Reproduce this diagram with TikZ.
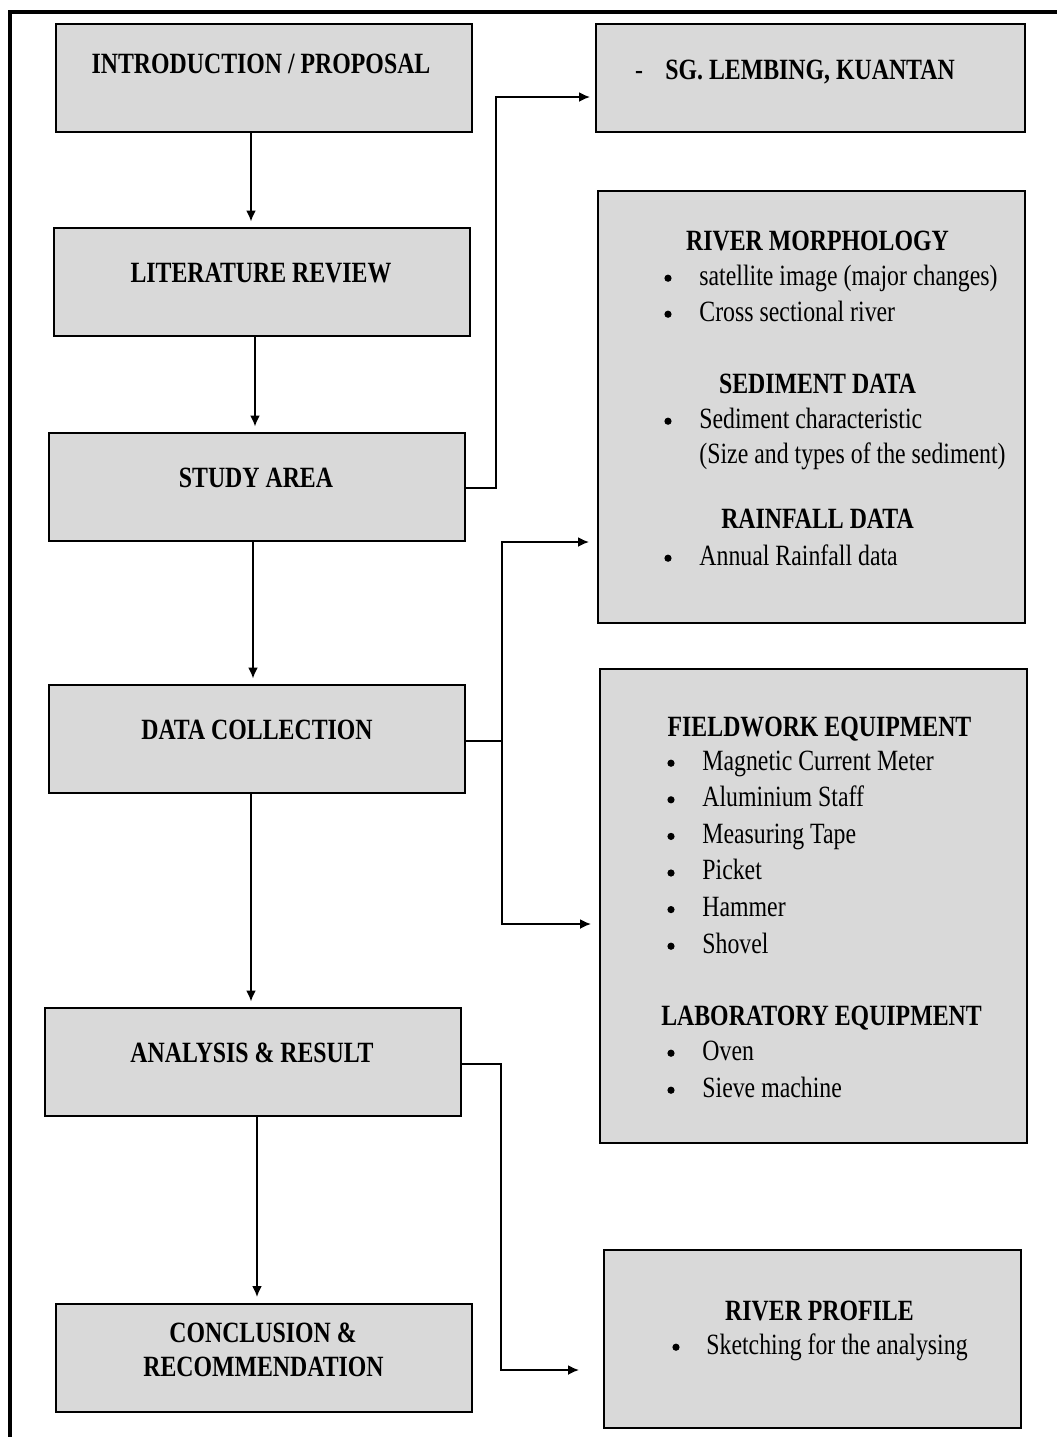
\documentclass[tikz,border=0pt]{standalone}
\usepackage{fontspec}
\setmainfont{Liberation Serif}[FakeStretch=0.81]
\usetikzlibrary{positioning,arrows.meta}

\definecolor{boxgray}{RGB}{217,217,217}
\newcommand\flowfont{\fontsize{14.7}{18}\selectfont}

\tikzset{
  stage/.style={draw, line width=1pt, fill=boxgray, minimum width=208pt, minimum height=54pt, inner sep=0pt},
  title/.style={font=\flowfont\bfseries, anchor=base, inner sep=0pt},
  item/.style={font=\flowfont, anchor=base west, inner sep=0pt},
  dot/.style={circle, fill=black, inner sep=0pt, minimum size=3.6pt, yshift=3.4pt},
  link/.style={->, line width=0.9pt},
  >={Latex[length=5.5pt,width=5pt]}
}

\begin{document}
\begin{tikzpicture}[x=0.5pt,y=-0.5pt]
        \useasboundingbox (0,0) rectangle (1057,1437);
        \draw[line width=2pt] (10,1437) |- (1057,12);

        % left column
        \node[stage] (intro) at (264,78) {};
        \node[stage] (lit) at (262,282) {};
        \node[stage] (study) at (257,487) {};
        \node[stage] (datacol) at (257,739) {};
        \node[stage] (analysis) at (253,1062) {};
        \node[stage] (concl) at (264,1357.5) {};

        \node[title] (introT) at (261,73) {INTRODUCTION / PROPOSAL};
        \node[title] (litT) at (261,282) {LITERATURE REVIEW};
        \node[title] (studyT) at (256,487) {STUDY AREA};
        \node[title] (datacolT) at (257,739) {DATA COLLECTION};
        \node[title] (analysisT) at (252,1062) {ANALYSIS \& RESULT};
        \node[title] (conclT) at (263,1342) {CONCLUSION \&};
        \node[title] (conclR) at (263.5,1376) {RECOMMENDATION};

        % right column
        \node[stage, minimum width=214.5pt] (sg) at (810.5,78) {};
        \node[stage, minimum width=213.5pt, minimum height=216pt] (morph) at (811.5,407) {};
        \node[stage, minimum width=213.5pt, minimum height=237pt] (equip) at (813.5,906) {};
        \node[stage, minimum width=208.5pt, minimum height=89pt] (profile) at (812.5,1339) {};

        \node[title, font=\flowfont] (sgdash) at (639,79) {-};
        \node[item, font=\flowfont\bfseries] (sgT) at (665,79) {SG. LEMBING, KUANTAN};

        \node[title] (morphT) at (817.5,250) {RIVER MORPHOLOGY};
        \node[dot] (mb1) at (668,285) {};
        \node[item] (m1) at (699,285) {satellite image (major changes)};
        \node[dot] (mb2) at (668,321) {};
        \node[item] (m2) at (699,321) {Cross sectional river};
        \node[title] (sedT) at (817.5,393) {SEDIMENT DATA};
        \node[dot] (sb1) at (668,428) {};
        \node[item] (s1) at (699,428) {Sediment characteristic};
        \node[item] (s2) at (699,463) {(Size and types of the sediment)};
        \node[title] (rainT) at (817.5,528) {RAINFALL DATA};
        \node[dot] (rb1) at (668,565) {};
        \node[item] (r1) at (699,565) {Annual Rainfall data};

        \node[title] (fieldT) at (819.5,736) {FIELDWORK EQUIPMENT};
        \foreach \t [count=\i] in {Magnetic Current Meter, Aluminium Staff, Measuring Tape, Picket, Hammer, Shovel} {
            \node[dot] (fb\i) at (671,{770+36.6*(\i-1)}) {};
            \node[item] (f\i) at (702,{770+36.6*(\i-1)}) {\t};
        }
        \node[title] (labT) at (821.5,1025) {LABORATORY EQUIPMENT};
        \foreach \t [count=\i] in {Oven, Sieve machine} {
            \node[dot] (lb\i) at (671,{1060+37*(\i-1)}) {};
            \node[item] (l\i) at (702,{1060+37*(\i-1)}) {\t};
        }

        \node[title] (profT) at (819.5,1320) {RIVER PROFILE};
        \node[dot] (pb1) at (676,1354) {};
        \node[item] (p1) at (706,1354) {Sketching for the analysing};

        % connectors
        \foreach \u / \v / \x in {intro/lit/251, lit/study/255, study/datacol/253, datacol/analysis/251, analysis/concl/257}
            \draw[link, shorten >=2.75pt] (\u.south -| \x,0) -- (\v.north -| \x,0);

        \draw[link, shorten >=2.5pt] (study.east |- 0,488) -- ++(30,0) |- (sg.west |- 0,97);

        \coordinate (split) at (502,741);
        \draw[line width=0.9pt] (datacol.east |- split) -- (split);
        \draw[link, shorten >=4pt] (split) |- (morph.west |- 0,542);
        \draw[link, shorten >=4pt] (split) |- (equip.west |- 0,924);

        \draw[link, shorten >=12pt] (analysis.east |- 0,1064) -- ++(39,0) |- (profile.west |- 0,1370);
\end{tikzpicture}
\end{document}
